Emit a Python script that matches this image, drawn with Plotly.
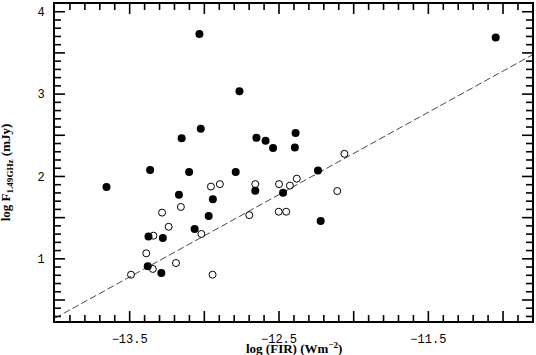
import plotly.graph_objects as PGraph

# radio vs far-infrared flux, detections (filled) and second sample (open)
filled_x = [-13.655, -13.033, -12.765, -13.024, -13.152, -12.651, -12.590, -12.540,
            -12.389, -12.394, -12.239, -11.049, -13.363, -13.102, -12.790, -13.170,
            -12.943, -12.659, -12.971, -13.065, -13.374, -13.278, -13.379, -13.288,
            -12.473, -12.221]
filled_y = [1.871, 3.730, 3.036, 2.578, 2.465, 2.470, 2.435, 2.345,
            2.528, 2.353, 2.073, 3.687, 2.078, 2.055, 2.055, 1.778,
            1.724, 1.825, 1.519, 1.361, 1.271, 1.253, 0.910, 0.827,
            1.801, 1.459]

open_x = [-13.491, -13.389, -13.345, -13.341, -13.283, -13.239, -13.190, -13.157,
          -13.020, -12.956, -12.896, -12.945, -12.699, -12.659, -12.500, -12.427,
          -12.381, -12.110, -12.502, -12.452, -12.062]
open_y = [0.807, 1.067, 0.877, 1.281, 1.561, 1.389, 0.949, 1.630,
          1.302, 1.877, 1.907, 0.807, 1.530, 1.907, 1.907, 1.889,
          1.973, 1.823, 1.572, 1.572, 2.275]

fit_x = [-14.0, -10.8]
fit_y = [0.28, 3.48]

x_range = [-14.0, -10.806]
y_range = [0.245, 4.094]

x_tickvals = [-13.5, -13.0, -12.5, -12.0, -11.5, -11.0]
x_ticktext = ["\u221213.5", " ", "\u221212.5", " ", "\u221211.5", " "]
y_tickvals = [0.5, 1.0, 1.5, 2.0, 2.5, 3.0, 3.5, 4.0]
y_ticktext = [" ", "1", " ", "2", " ", "3", " ", "4"]

WIDTH, HEIGHT = 536, 355
MARGIN = dict(l=55, r=2, t=2, b=34)

fig = PGraph.Figure()

# inside tick marks on all four sides, built as one line trace
def minor_steps(lo, hi):
    vals = []
    v = round(lo * 10)
    while v <= hi * 10:
        vals.append(v / 10)
        v += 1
    return vals

px_x = (x_range[1] - x_range[0]) / (WIDTH - MARGIN["l"] - MARGIN["r"])
px_y = (y_range[1] - y_range[0]) / (HEIGHT - MARGIN["t"] - MARGIN["b"])
tick_x, tick_y = [], []
for xv in minor_steps(-13.9, x_range[1]):
    length = (10 if xv in x_tickvals else 6) * px_y
    tick_x += [xv, xv, None, xv, xv, None]
    tick_y += [y_range[0], y_range[0] + length, None, y_range[1], y_range[1] - length, None]
for yv in minor_steps(0.3, y_range[1]):
    length = (10 if yv in y_tickvals else 6) * px_x
    tick_x += [x_range[0], x_range[0] + length, None, x_range[1], x_range[1] - length, None]
    tick_y += [yv, yv, None, yv, yv, None]

fig.add_trace(PGraph.Scatter(x=tick_x, y=tick_y, mode="lines", connectgaps=False,
                             line=dict(color="black", width=1.6), hoverinfo="skip"))

fig.add_trace(PGraph.Scatter(x=fit_x, y=fit_y, mode="lines",
                             line=dict(color="#333", width=0.9, dash="7px,3px"),
                             hoverinfo="skip"))
fig.add_trace(PGraph.Scatter(x=open_x, y=open_y, mode="markers",
                             marker=dict(symbol="circle-open", size=7,
                                         color="black", line=dict(width=1))))
fig.add_trace(PGraph.Scatter(x=filled_x, y=filled_y, mode="markers",
                             marker=dict(symbol="circle", size=8, color="black")))

fig.update_xaxes(range=x_range, tickmode="array",
                 tickvals=x_tickvals, ticktext=x_ticktext, ticks="",
                 showline=True, linecolor="black", linewidth=2, mirror=True,
                 showgrid=False, zeroline=False, ticklabelstandoff=6,
                 tickfont=dict(family="Liberation Mono", size=12, color="black"))
fig.update_yaxes(range=y_range, tickmode="array",
                 tickvals=y_tickvals, ticktext=y_ticktext, ticks="",
                 showline=True, linecolor="black", linewidth=2, mirror=True,
                 showgrid=False, zeroline=False, ticklabelstandoff=6,
                 tickfont=dict(family="Liberation Mono", size=12, color="black"))

title_font = dict(family="Liberation Serif", size=13, color="black")
fig.add_annotation(text="<b>log (FIR) (Wm<sup>\u22122</sup>)</b>", xref="paper", yref="paper",
                   x=0.5, y=-0.086, xanchor="center", yanchor="middle",
                   showarrow=False, font=title_font)
fig.add_annotation(text="<b>log F<sub>1.49GHz</sub> (mJy)</b>", xref="paper", yref="paper",
                   x=-0.08, y=0.47, xanchor="right", yanchor="middle", textangle=-90,
                   showarrow=False, font=title_font)

fig.update_layout(width=WIDTH, height=HEIGHT, showlegend=False,
                  plot_bgcolor="white", paper_bgcolor="white", margin=MARGIN)

fig.write_html("out.html", config={"displayModeBar": False},
               post_script="document.body.style.margin='0';")
